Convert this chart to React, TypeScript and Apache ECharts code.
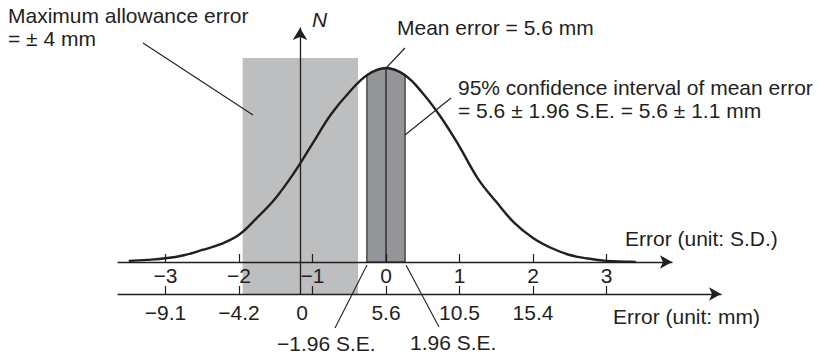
import React, { useEffect, useRef } from 'react';
import * as echarts from 'echarts';

// Normal curve (x in S.D. units, height relative to peak)
const curveSd = [-3.5, -3.25, -3, -2.75, -2.5, -2.25, -2, -1.75, -1.5, -1.25, -1, -0.75, -0.5, -0.25, 0, 0.25, 0.5, 0.75, 1, 1.25, 1.5, 1.75, 2, 2.25, 2.5, 2.75, 3, 3.25, 3.4];
const curveN = [0.006, 0.011, 0.019, 0.035, 0.062, 0.092, 0.14, 0.23, 0.33, 0.46, 0.61, 0.76, 0.875, 0.965, 1, 0.965, 0.87, 0.745, 0.595, 0.43, 0.31, 0.2, 0.124, 0.072, 0.036, 0.018, 0.006, 0.002, 0.0];

// 95% CI of the mean (S.D. units) and its top edge on the curve
const ciSd = [-0.26, -0.13, 0, 0.13, 0.26];
const ciN = [0.965, 0.99, 1, 0.99, 0.965];

// Maximum allowance error band (S.D. units) and its vertical extent
const allowSd = [-1.95, -0.38];
const allowN = [-0.165, 1.052];

// Mean line
const meanSd = 0;

// Upper axis (S.D.)
const sdTicks = [-3, -2, -1, 0, 1, 2, 3];
const sdTickLabels = ['\u22123', '\u22122', '\u22121', '0', '1', '2', '3'];

// Lower axis (mm)
const mmTicks = [-9.1, -4.2, 0.7, 5.6, 10.5, 15.4, 20.3];
const mmLabelValues = [-9.1, -4.2, 0, 5.6, 10.5, 15.4];
const mmLabels = ['\u22129.1', '\u22124.2', '0', '5.6', '10.5', '15.4'];

const INK = '#231f20';
const FONT = '"Liberation Sans", Arial, Helvetica, sans-serif';
const FS = 21;

export default function App() {
  const ref = useRef<HTMLDivElement>(null);
  useEffect(() => {
    if (!ref.current) return;
    const chart = echarts.init(ref.current, null, { renderer: 'svg' });

    const txt = (text: string, x: number, y: number, extra: any = {}) => ({
      type: 'text',
      x,
      y,
      z: 20,
      style: {
        text,
        font: `${extra.italic ? 'italic ' : ''}${FS}px ${FONT}`,
        fill: INK,
        align: 'left',
        verticalAlign: 'middle',
        textAlign: 'left',
        textVerticalAlign: 'middle',
      },
    });
    const ln = (x1: number, y1: number, x2: number, y2: number) => ({
      type: 'line',
      z: 20,
      shape: { x1, y1, x2, y2 },
      style: { stroke: INK, lineWidth: 1.1 },
    });

    const option: any = {
      animation: false,
      backgroundColor: '#ffffff',
      grid: [
        { left: 118, top: 0, width: 554, height: 262, outerBoundsMode: 'none' },
        { left: 118, top: 250, width: 603, height: 44, outerBoundsMode: 'none' },
        { left: 300, top: 28, width: 10, height: 266, outerBoundsMode: 'none' },
      ],
      xAxis: [
        {
          gridIndex: 0,
          type: 'value',
          min: -3.646,
          max: 3.891,
          position: 'bottom',
          z: 10,
          axisLine: {
            show: true,
            onZero: false,
            symbol: ['none', 'arrow'],
            symbolSize: [10, 12],
            lineStyle: { color: INK, width: 1.3 },
          },
          axisTick: { show: true, inside: true, length: 8, customValues: sdTicks, lineStyle: { color: INK, width: 1.2 } },
          axisLabel: {
            show: true,
            customValues: sdTicks,
            margin: 3,
            fontSize: FS,
            fontFamily: FONT,
            color: INK,
            formatter: (v: number) => sdTickLabels[sdTicks.indexOf(v)] ?? '',
          },
          splitLine: { show: false },
        },
        {
          gridIndex: 1,
          type: 'value',
          min: -12.265,
          max: 27.93,
          position: 'bottom',
          z: 10,
          axisLine: {
            show: true,
            onZero: false,
            symbol: ['none', 'arrow'],
            symbolSize: [10, 12],
            lineStyle: { color: INK, width: 1.3 },
          },
          axisTick: { show: true, inside: true, length: 8, customValues: mmTicks, lineStyle: { color: INK, width: 1.2 } },
          axisLabel: {
            show: true,
            customValues: mmLabelValues,
            margin: 8,
            fontSize: FS,
            fontFamily: FONT,
            color: INK,
            formatter: (v: number) => mmLabels[mmLabelValues.indexOf(v)] ?? '',
          },
          splitLine: { show: false },
        },
        { gridIndex: 2, type: 'value', show: false, min: 0, max: 1 },
      ],
      yAxis: [
        { gridIndex: 0, type: 'value', min: 0, max: 1.3505, show: false },
        { gridIndex: 1, type: 'value', min: 0, max: 1, show: false },
        {
          gridIndex: 2,
          type: 'value',
          min: 0,
          max: 1,
          position: 'left',
          z: 10,
          axisLine: {
            show: true,
            onZero: false,
            symbol: ['none', 'arrow'],
            symbolSize: [11, 12],
            lineStyle: { color: INK, width: 1.3 },
          },
          axisTick: { show: false },
          axisLabel: { show: false },
          splitLine: { show: false },
        },
      ],
      series: [
        {
          type: 'custom',
          name: 'allowance',
          xAxisIndex: 0,
          yAxisIndex: 0,
          z: 1,
          clip: false,
          silent: true,
          data: [[0]],
          renderItem: (_p: any, api: any) => {
            const a = api.coord([allowSd[0], allowN[1]]);
            const b = api.coord([allowSd[1], allowN[0]]);
            return {
              type: 'rect',
              shape: { x: a[0], y: a[1], width: b[0] - a[0], height: b[1] - a[1] },
              style: { fill: '#bcbec0' },
            };
          },
        },
        {
          type: 'custom',
          name: 'ci',
          xAxisIndex: 0,
          yAxisIndex: 0,
          z: 3,
          silent: true,
          data: [[0]],
          renderItem: (_p: any, api: any) => {
            const pts: number[][] = [api.coord([ciSd[0], 0])];
            ciSd.forEach((x, i) => pts.push(api.coord([x, ciN[i]])));
            pts.push(api.coord([ciSd[ciSd.length - 1], 0]));
            return {
              type: 'polygon',
              shape: { points: pts },
              style: { fill: '#939598', stroke: INK, lineWidth: 1.1 },
            };
          },
        },
        {
          type: 'line',
          name: 'mean',
          xAxisIndex: 0,
          yAxisIndex: 0,
          z: 4,
          silent: true,
          showSymbol: false,
          symbol: 'none',
          data: [[meanSd, 0], [meanSd, 1]],
          lineStyle: { color: INK, width: 1.3 },
        },
        {
          type: 'line',
          name: 'curve',
          xAxisIndex: 0,
          yAxisIndex: 0,
          z: 5,
          silent: true,
          smooth: 0.4,
          showSymbol: false,
          symbol: 'none',
          data: curveSd.map((x, i) => [x, curveN[i]]),
          lineStyle: { color: INK, width: 2.4 },
        },
      ],
      graphic: [
        txt('Maximum allowance error', 8, 15),
        txt('= \u00b1 4 mm', 8, 38),
        ln(143, 43, 253, 115),
        txt('N', 312, 19.5, { italic: true }),
        txt('Mean error = 5.6 mm', 397, 27.5),
        ln(405, 48, 387, 67),
        txt('95% confidence interval of mean error', 458, 87),
        txt('= 5.6 \u00b1 1.96 S.E. = 5.6 \u00b1 1.1 mm', 458, 110),
        ln(451, 98, 405, 135),
        txt('Error (unit: S.D.)', 625, 238),
        txt('Error (unit: mm)', 613, 316.5),
        txt('\u22121.96 S.E.', 277, 343),
        ln(367, 265, 335, 328),
        txt('1.96 S.E.', 410, 342),
        ln(406, 265, 439, 327),
      ],
    };

    chart.setOption(option);
    return () => chart.dispose();
  }, []);

  return (
    <div
      ref={ref}
      style={{ position: 'absolute', left: 0, top: 0, width: 825, height: 355, background: '#fff' }}
    />
  );
}
